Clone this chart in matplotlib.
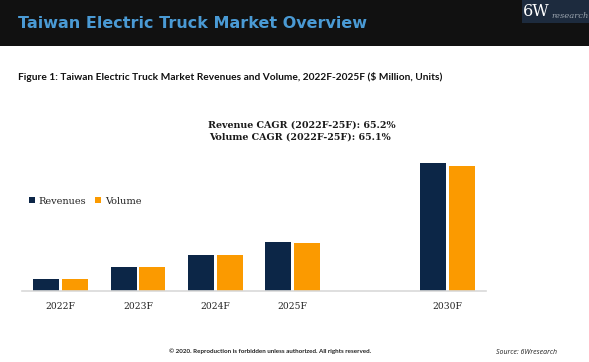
import matplotlib
matplotlib.use("Agg")
import matplotlib.pyplot as plt
from matplotlib.patches import Rectangle
import numpy as np

# ---- data ----
categories = ["2022F", "2023F", "2024F", "2025F", "2030F"]
positions = [0, 1, 2, 3, 5]
revenues = [12, 24, 36, 49, 128]
volume = [12, 24, 36, 48, 125]

title = "Taiwan Electric Truck Market Overview"
subtitle = "Figure 1: Taiwan Electric Truck Market Revenues and Volume, 2022F-2025F ($ Million, Units)"
cagr_lines = ["Revenue CAGR (2022F-25F): 65.2%", "Volume CAGR (2022F-25F): 65.1%"]
footer = "\u00a9 2020. Reproduction is forbidden unless authorized. All rights reserved."
source = "Source: 6Wresearch"

NAVY = "#0c2647"
ORANGE = "#fb9a00"

W, H = 589, 362
fig = plt.figure(figsize=(W / 100, H / 100), dpi=100)
fig.patch.set_facecolor("white")


def fx(x):
    return x / W


def fy(y):
    return 1 - y / H


# header band
fig.patches.append(Rectangle((0, fy(46)), 1, 46 / H, transform=fig.transFigure,
                             facecolor="#111111", edgecolor="none", zorder=0))
# logo box
fig.patches.append(Rectangle((fx(522), fy(23)), 67 / W, 23 / H, transform=fig.transFigure,
                             facecolor="#1d2b3e", edgecolor="none", zorder=1))
fig.text(fx(523), fy(11), "6W", color="white", fontsize=11.5, family="DejaVu Serif",
         va="center", ha="left")
fig.text(fx(551), fy(16), "research", color="#9aa3ad", fontsize=6, family="DejaVu Serif",
         style="italic", va="center", ha="left")

fig.text(fx(18), fy(24), title, color="#4a9ad4", fontsize=11.5, fontweight="bold",
         family="DejaVu Sans", va="center", ha="left")

fig.text(fx(18), fy(77), subtitle, color="#111111", fontsize=7.3, fontweight="bold",
         family=["Lato", "DejaVu Sans"], va="center", ha="left")

fig.text(fx(302), fy(125), cagr_lines[0], color="#1a1a1a", fontsize=6.8, fontweight="bold",
         family="DejaVu Serif", va="center", ha="center")
fig.text(fx(300), fy(137), cagr_lines[1], color="#1a1a1a", fontsize=6.8, fontweight="bold",
         family="DejaVu Serif", va="center", ha="center")

fig.text(fx(270), fy(351), footer, color="#222222", fontsize=4.5, fontweight="bold",
         family=["Lato", "DejaVu Sans"], va="center", ha="center")
fig.text(fx(496), fy(353), source, color="#222222", fontsize=5, style="italic",
         family=["Open Sans", "DejaVu Sans"], va="center", ha="left")

# ---- chart ----
ax = fig.add_axes([fx(22), 1 - 291 / H, 464 / W, 141 / H])
ax.set_facecolor("none")
pos = np.array(positions, dtype=float)
bw = 0.335
off = 0.185
ax.bar(pos - off, revenues, width=bw, color=NAVY, label="Revenues", zorder=2)
ax.bar(pos + off, volume, width=bw, color=ORANGE, label="Volume", zorder=2)

ax.set_xlim(-0.5, 5.5)
ax.set_ylim(0, 141)
ax.set_xticks(pos)
ax.set_xticklabels(categories, family="DejaVu Serif", fontsize=6.6, color="#222222")
ax.tick_params(axis="x", length=0, pad=8)
ax.set_yticks([])
for s in ["top", "right", "left"]:
    ax.spines[s].set_visible(False)
ax.spines["bottom"].set_color("#d9d9d9")
ax.spines["bottom"].set_linewidth(1.2)

leg = ax.legend(loc="center left", bbox_to_anchor=(fx(29), fy(201)), bbox_transform=fig.transFigure,
                ncol=2, frameon=False, borderpad=0, borderaxespad=0, handlelength=0.65,
                handleheight=0.65, handletextpad=0.35, columnspacing=0.9,
                prop={"family": "DejaVu Serif", "size": 7})
for t in leg.get_texts():
    t.set_color("#222222")

fig.savefig("out.png", dpi=100)
